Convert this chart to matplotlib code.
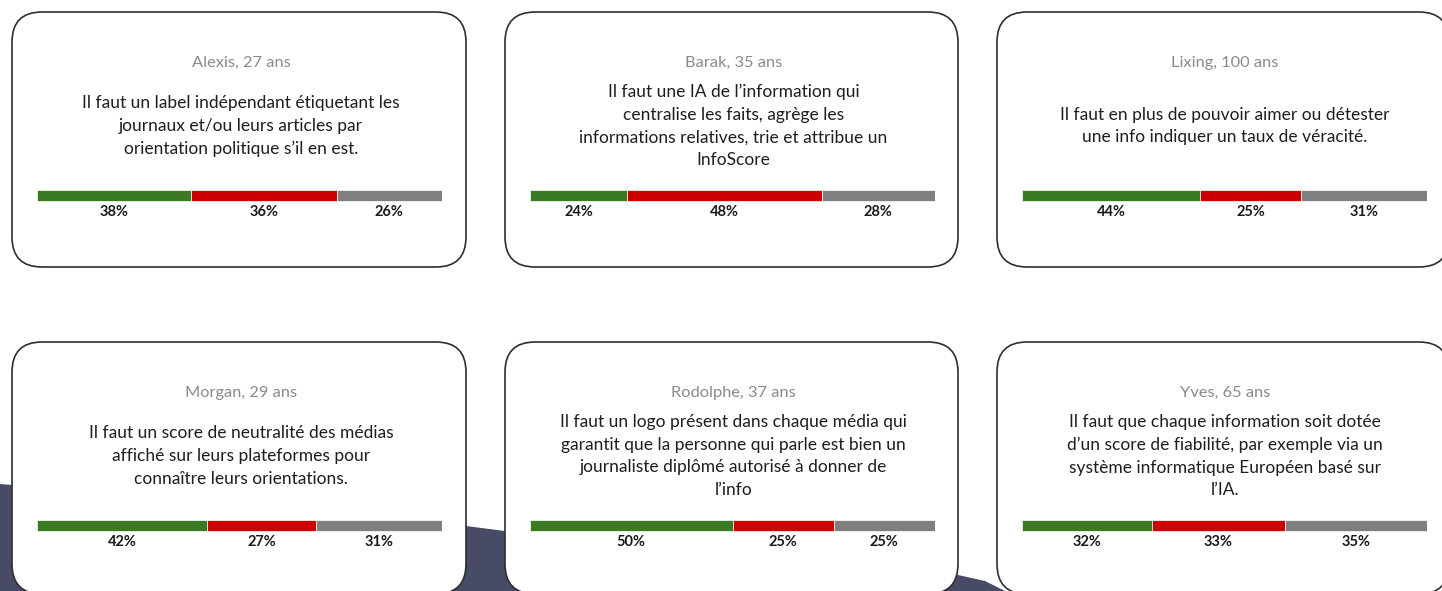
import numpy as np
import matplotlib.pyplot as plt
from matplotlib.patches import FancyBboxPatch, Polygon

plt.rcParams['font.family'] = ['Lato', 'DejaVu Sans']

# survey data: one card per respondent
names = ["Alexis", "Barak", "Lixing", "Morgan", "Rodolphe", "Yves"]
ages = [27, 35, 100, 29, 37, 65]
statements = [
    "Il faut un label indépendant étiquetant les\njournaux et/ou leurs articles par\norientation politique s’il en est.",
    "Il faut une IA de l’information qui\ncentralise les faits, agrège les\ninformations relatives, trie et attribue un\nInfoScore",
    "Il faut en plus de pouvoir aimer ou détester\nune info indiquer un taux de véracité.",
    "Il faut un score de neutralité des médias\naffiché sur leurs plateformes pour\nconnaître leurs orientations.",
    "Il faut un logo présent dans chaque média qui\ngarantit que la personne qui parle est bien un\njournaliste diplômé autorisé à donner de\nl’info",
    "Il faut que chaque information soit dotée\nd’un score de fiabilité, par exemple via un\nsystème informatique Européen basé sur\nl’IA.",
]
pour = [38, 24, 44, 42, 50, 32]
contre = [36, 48, 25, 27, 25, 33]
neutre = [26, 28, 31, 31, 25, 35]

colors = ["#3a7a22", "#cc0000", "#7f7f7f"]

W, H = 1442, 591
fig = plt.figure(figsize=(W / 100, H / 100), dpi=100)
fig.patch.set_facecolor("white")

# background layer in pixel coordinates
bg = fig.add_axes([0, 0, 1, 1])
bg.set_xlim(0, W)
bg.set_ylim(H, 0)
bg.axis("off")

# dark decorative shape at the bottom left
shape = [(0, 484), (240, 504), (466, 526), (505, 531), (760, 553),
         (958, 575), (985, 581), (1005, 591), (0, 591)]
bg.add_patch(Polygon(shape, closed=True, facecolor="#474b66", edgecolor="none", zorder=0))

card_x = [12, 505, 997]
card_w = [454, 453, 452]
card_y = [12, 342]
card_h = [255, 252]

for i in range(6):
    row, col = divmod(i, 3)
    x0, w = card_x[col], card_w[col]
    y0, h = card_y[row], card_h[row]
    bg.add_patch(FancyBboxPatch((x0, y0), w, h,
                                boxstyle="round,pad=0,rounding_size=30",
                                facecolor="white", edgecolor="#2e2e2e",
                                linewidth=1.2, zorder=1))
    cx = x0 + w / 2 + 2
    name_y = y0 + 51
    bg.text(cx, name_y, f"{names[i]}, {ages[i]} ans", ha="center", va="center",
            fontsize=11.8, color="#8a8a8a", zorder=2)
    bg.text(cx, y0 + 114, statements[i], ha="center", va="center",
            fontsize=12.5, color="#1e1e1e", linespacing=1.52, zorder=2)

    # stacked bar, with labels under each segment
    bx = x0 + 25
    bw = 405
    btop = y0 + 178
    ax = fig.add_axes([bx / W, 1 - (btop + 32) / H, bw / W, 32 / H])
    ax.set_xlim(0, 100)
    ax.set_ylim(32, 0)
    ax.axis("off")
    vals = [pour[i], contre[i], neutre[i]]
    left = 0
    for v, c in zip(vals, colors):
        ax.barh(5.5, v, left=left, height=11, color=c, edgecolor="white", linewidth=0.5)
        ax.text(left + v / 2, 22.5, f"{v}%", ha="center", va="center",
                fontsize=10.5, fontweight="bold", color="#1a1a1a")
        left += v

fig.savefig("out.png", dpi=100)
